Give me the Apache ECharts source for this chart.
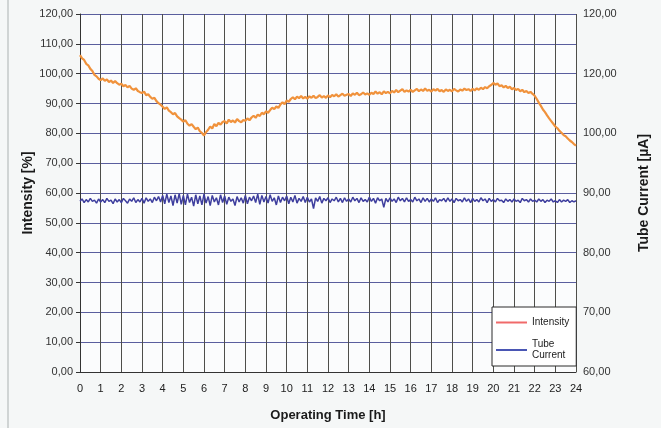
<!DOCTYPE html>
<html>
<head>
<meta charset="utf-8">
<script src="https://cdn.jsdelivr.net/npm/echarts@6/dist/echarts.min.js"></script>
<style>
html,body{margin:0;padding:0;background:#f5f7f7;}
#chart{width:661px;height:428px;}
</style>
</head>
<body>
<div id="chart"></div>
<script>
// Sampling: one reading every 0.1 h from 0 to 24 h
var timeStepHours = 0.1;

// Intensity [%] (left axis)
var intensity = [
  106.2,105.1,104.6,103.3,102.8,101.6,100.9,99.6,99.1,98.3,
  97.8,98.4,97.6,98.1,97.2,97.7,96.9,97.5,96.8,96.3,
  96.6,95.8,96.2,95.4,95.9,95.0,94.6,95.1,94.2,93.8,
  93.5,94.0,92.8,93.1,92.2,91.6,91.9,90.8,90.1,89.6,
  88.9,88.2,88.7,87.6,87.1,86.4,86.8,85.7,85.1,84.6,
  83.9,84.4,83.2,82.6,83.1,82.2,81.4,81.9,80.7,80.1,
  79.3,80.4,81.2,82.3,81.6,83.1,82.4,83.5,82.9,83.8,
  84.1,83.3,84.6,83.8,84.3,83.6,84.8,84.1,83.7,84.5,
  84.2,85.0,84.4,85.3,85.9,85.2,86.3,85.8,86.9,86.4,
  87.4,86.9,87.8,88.6,88.1,89.0,88.5,89.7,90.4,89.8,
  91.0,90.6,91.5,92.1,91.4,92.3,91.8,92.5,91.7,92.2,
  91.6,92.4,91.9,92.6,91.8,92.2,92.8,92.0,92.5,91.9,
  92.7,92.1,92.9,92.4,93.1,92.3,92.8,93.3,92.6,92.9,
  93.2,92.5,93.4,92.9,93.6,92.8,93.1,93.7,93.0,93.4,
  92.9,93.6,93.2,94.0,93.3,93.8,93.1,94.1,93.5,93.9,
  93.4,94.2,93.7,94.5,93.8,94.3,94.8,93.9,94.4,94.0,
  94.6,93.9,94.4,94.9,94.1,94.7,94.2,95.0,94.3,94.6,
  94.0,94.8,94.3,94.9,94.1,94.5,93.9,94.7,94.2,94.6,
  94.1,94.9,94.4,94.0,94.7,94.3,95.0,94.5,94.8,94.2,
  94.9,94.4,95.1,94.6,95.3,94.8,95.5,95.1,95.8,96.2,
  96.9,96.3,96.7,95.8,96.1,95.4,95.9,95.2,95.6,94.8,
  95.2,94.5,94.9,94.1,94.6,93.8,94.2,93.5,93.9,93.2,
  92.6,91.5,90.3,89.2,88.0,87.1,86.0,85.0,84.1,83.2,
  82.3,81.7,80.8,80.2,79.4,79.0,78.3,77.6,77.1,76.4,
  75.9
];

// Tube current [µA] (right axis)
var tubeCurrent = [
  88.6,89.0,88.4,88.9,88.5,89.1,88.6,88.8,88.3,89.0,
  88.5,88.9,88.4,89.1,88.6,88.8,88.2,89.0,88.5,88.9,
  88.4,89.1,88.7,88.3,89.0,88.6,89.2,88.4,88.9,88.5,
  89.1,88.3,89.2,88.6,89.0,88.4,89.3,88.7,89.4,88.5,
  89.6,88.2,89.8,88.4,89.5,87.9,89.7,88.3,89.9,88.1,
  89.6,88.0,89.8,88.4,89.3,87.8,89.7,88.2,89.5,88.0,
  89.8,88.3,89.4,87.9,89.6,88.5,89.2,88.0,89.7,88.4,
  89.5,88.1,89.3,88.6,89.0,87.9,89.4,88.5,89.2,88.3,
  89.6,88.2,89.3,88.7,89.5,88.4,89.8,88.1,89.6,88.5,
  89.4,88.3,89.7,88.6,89.2,88.0,89.5,88.4,89.3,88.7,
  89.5,88.2,89.3,88.5,89.6,88.3,89.1,88.6,89.4,88.4,
  89.3,88.5,89.0,87.4,89.2,88.6,89.4,88.3,89.1,88.7,
  89.2,88.4,89.0,88.7,89.3,88.5,89.1,88.4,89.2,88.6,
  89.0,88.5,89.3,88.7,89.1,88.4,89.2,88.6,88.9,88.5,
  89.3,88.6,89.1,88.3,89.2,88.7,89.0,87.6,89.1,88.5,
  89.2,88.6,89.0,88.4,89.3,88.7,89.1,88.5,89.2,88.6,
  88.9,88.5,89.3,88.7,89.0,88.4,89.2,88.6,89.1,88.5,
  89.0,88.6,89.2,88.4,88.9,88.7,89.1,88.5,89.2,88.6,
  89.0,88.4,89.1,88.7,88.9,88.5,89.2,88.6,89.0,88.4,
  89.1,88.6,88.9,88.5,89.2,88.7,89.0,88.4,89.1,88.6,
  88.9,88.5,89.1,88.7,88.8,88.4,89.0,88.6,88.9,88.5,
  89.0,88.6,88.8,88.4,89.1,88.7,88.9,88.5,89.0,88.6,
  88.8,88.5,89.0,88.6,88.9,88.4,88.8,88.6,89.0,88.5,
  88.7,88.4,88.9,88.5,88.8,88.6,88.9,88.4,88.7,88.5,
  88.7
];

// Right-axis tick labels as printed (the original repeats "120,00")
var rightTickValues = [60, 70, 80, 90, 100, 110, 120];
var rightTickLabels = ["60,00", "70,00", "80,00", "90,00", "100,00", "120,00", "120,00"];

var seriesNames = ["Intensity", "Tube\nCurrent"];

function pairs(arr) {
  var out = [];
  for (var i = 0; i < arr.length; i++) {
    out.push([Math.round(i * timeStepHours * 10) / 10, arr[i]]);
  }
  return out;
}

var fontFamily = '"Liberation Sans", Arial, sans-serif';
var chart = echarts.init(document.getElementById('chart'), null, {renderer: 'canvas'});

chart.setOption({
  backgroundColor: '#f5f7f7',
  animation: false,
  textStyle: {fontFamily: fontFamily},
  graphic: [{
    type: 'line', shape: {x1: 8, y1: 0, x2: 8, y2: 428},
    style: {stroke: '#b8bcbc', lineWidth: 1.2}, silent: true
  }],
  grid: {
    left: 80, right: 85, top: 14, bottom: 56,
    show: true, backgroundColor: '#fbfcfd', borderWidth: 0
  },
  legend: {
    orient: 'vertical',
    left: 492, top: 307,
    padding: [10, 7, 5, 4],
    itemGap: 11,
    itemWidth: 31, itemHeight: 2,
    backgroundColor: '#ffffff',
    borderColor: '#2a2a2a', borderWidth: 1,
    textStyle: {fontSize: 10, color: '#222', fontFamily: fontFamily, lineHeight: 11},
    data: [
      {name: seriesNames[0], icon: 'rect', itemStyle: {color: '#f06a6a'}},
      {name: seriesNames[1], icon: 'rect', itemStyle: {color: '#4a56b4'}}
    ]
  },
  xAxis: {
    type: 'value', min: 0, max: 24, interval: 1,
    name: 'Operating Time [h]', nameLocation: 'middle', nameGap: 37,
    nameTextStyle: {fontSize: 13, fontWeight: 'bold', color: '#1a1a1a', fontFamily: fontFamily},
    axisLine: {show: true, lineStyle: {color: '#333', width: 1}},
    axisTick: {show: false},
    axisLabel: {fontSize: 11, color: '#222', margin: 11, fontFamily: fontFamily},
    splitLine: {show: true, lineStyle: {color: '#4e4e4a', width: 1}}
  },
  yAxis: [{
    type: 'value', min: 0, max: 120, interval: 10,
    name: 'Intensity [%]', nameLocation: 'middle', nameGap: 45, nameRotate: 90,
    nameMoveOverlap: false,
    nameTextStyle: {fontSize: 14, fontWeight: 'bold', color: '#1a1a1a', fontFamily: fontFamily},
    axisLine: {show: true, lineStyle: {color: '#333', width: 1}},
    axisTick: {show: true, length: 4, lineStyle: {color: '#333'}},
    axisLabel: {fontSize: 11, color: '#333', margin: 7, fontFamily: fontFamily,
      formatter: function (v) { return v.toFixed(2).replace('.', ','); }},
    splitLine: {show: true, lineStyle: {color: '#5a5e9e', width: 1}}
  }, {
    type: 'value', min: 60, max: 120, interval: 10, position: 'right',
    name: 'Tube Current [µA]', nameLocation: 'middle', nameGap: 61, nameRotate: 90,
    nameTextStyle: {fontSize: 14, fontWeight: 'bold', color: '#1a1a1a', fontFamily: fontFamily},
    axisLine: {show: false},
    axisTick: {show: false},
    axisLabel: {fontSize: 11, color: '#333', margin: 7, fontFamily: fontFamily,
      formatter: function (v) {
        var idx = rightTickValues.indexOf(v);
        return idx >= 0 ? rightTickLabels[idx] : '';
      }},
    splitLine: {show: false}
  }],
  series: [{
    name: seriesNames[0], type: 'line', yAxisIndex: 0,
    data: pairs(intensity), showSymbol: false, symbol: 'none',
    lineStyle: {color: '#f0923c', width: 2.2},
    itemStyle: {color: '#f0923c'},
    z: 3
  }, {
    name: seriesNames[1], type: 'line', yAxisIndex: 1,
    data: pairs(tubeCurrent), showSymbol: false, symbol: 'none',
    lineStyle: {color: '#3e3e9e', width: 1.5},
    itemStyle: {color: '#3e3e9e'},
    z: 3
  }]
});
</script>
</body>
</html>
